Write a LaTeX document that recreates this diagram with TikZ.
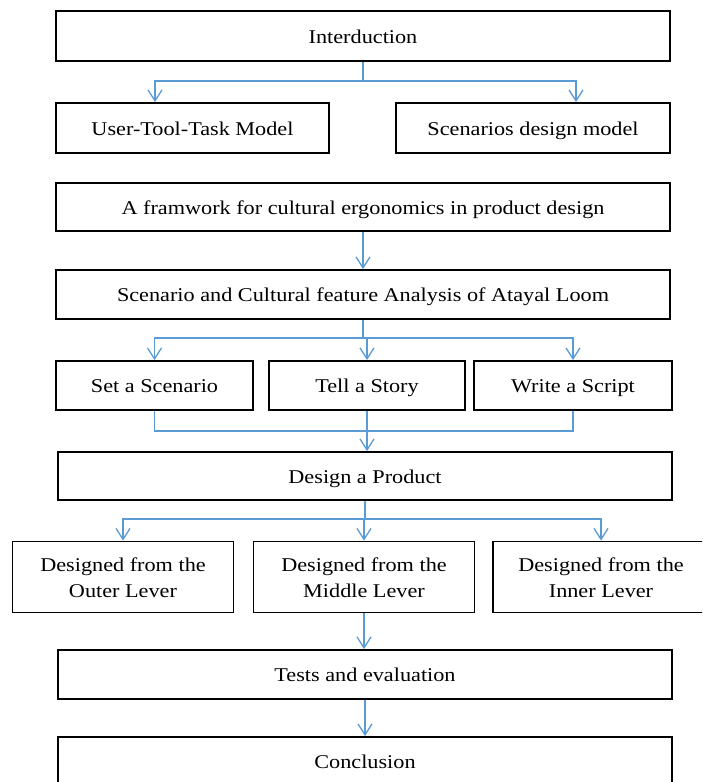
\documentclass[tikz,border=0pt]{standalone}
\usepackage{fontspec}
\setmainfont[FakeStretch=1.14]{Liberation Serif}
\usepackage{tikz}
\usetikzlibrary{arrows.meta,positioning}
\definecolor{lineblue}{RGB}{91,155,213}
\tikzset{box/.style={draw,line width=1.8pt,inner sep=0pt,align=center,
        font=\fontsize{19.5}{26}\selectfont,text height=14.5pt,text depth=0pt}}
\tikzset{box2/.style={box,text height=40.5pt}}
\tikzset{link/.style={draw=lineblue,line width=1.3pt},
        flow/.style={link,-{Straight Barb[length=11pt,width=14pt]}}}

\begin{document}
\begin{tikzpicture}[x=1pt,y=-1pt]
                \clip (0,0) rectangle (702,782);
                \node[box,minimum width=614,minimum height=50] (in) at (363,36) {Interduction};
                \node[box,minimum width=273,minimum height=50] (utt) at (192.5,128) {User-Tool-Task Model};
                \node[box,minimum width=274,minimum height=50] (sdm) at (533,128) {Scenarios design model};
                \node[box,minimum width=614,minimum height=48] (fw) at (363,207) {A framwork for cultural ergonomics in product design};
                \node[box,minimum width=614,minimum height=49] (an) at (363,294.5) {Scenario and Cultural feature Analysis of Atayal Loom};
                \node[box,minimum width=197,minimum height=49] (s1) at (154.5,385.5) {Set a Scenario};
                \node[box,minimum width=196,minimum height=49] (s2) at (367,385.5) {Tell a Story};
                \node[box,minimum width=198,minimum height=49] (s3) at (573,385.5) {Write a Script};
                \node[box,minimum width=614,minimum height=48] (dp) at (365,476) {Design a Product};
                \node[box2,minimum width=221,minimum height=71] (d1) at (123,577) {Designed from the\\Outer Lever};
                \node[box2,minimum width=221,minimum height=71] (d2) at (364,577) {Designed from the\\Middle Lever};
                \node[box2,minimum width=216,minimum height=71] (d3) at (601,577) {Designed from the\\Inner Lever};
                \node[box,minimum width=614,minimum height=49] (te) at (365,674.5) {Tests and evaluation};
                \node[box,minimum width=614,minimum height=48] (co) at (365,761) {Conclusion};
                \coordinate (xl) at (155,0);
                \coordinate (xr) at (576,0);
                % branches
                \path (in.south) ++(0,19) coordinate (j1);
                \path (an.south) ++(0,18) coordinate (j2);
                \path (s2.south) ++(0,20) coordinate (j3);
                \path (dp.south) ++(0,18) coordinate (j4);
                \draw[link] (in.south) -- (j1);
                \draw[flow] (j1) -| (utt.north -| xl);
                \draw[flow] (j1) -| (sdm.north -| xr);
                \draw[flow] (fw) -- (an);
                \draw[link] (an.south) -- (j2);
                \draw[flow] (j2) -| (s1.north);
                \draw[flow] (j2) -| (s2.north);
                \draw[flow] (j2) -| (s3.north);
                \draw[link] (s1.south) |- (j3) -| (s3.south);
                \draw[flow] (s2.south) -- (dp.north -| s2.south);
                \draw[link] (dp.south) -- (j4);
                \draw[flow] (j4) -| (d1.north);
                \draw[flow] (j4) -| (d2.north);
                \draw[flow] (j4) -| (d3.north);
                \draw[flow] (d2.south) -- (te.north -| d2.south);
                \draw[flow] (te) -- (co);
\end{tikzpicture}
\end{document}
